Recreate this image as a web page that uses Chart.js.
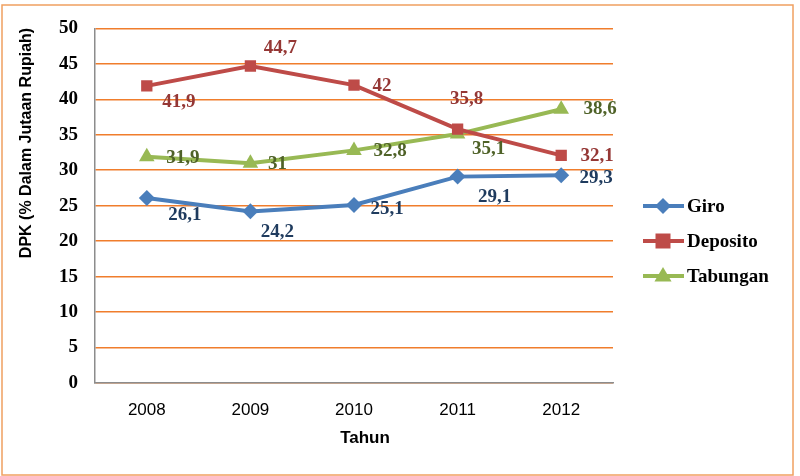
<!DOCTYPE html>
<html>
<head>
<meta charset="utf-8">
<script src="https://cdn.jsdelivr.net/npm/chart.js@4"></script>
<style>
  body { margin: 0; background: #fff; }
  #wrap { width: 800px; height: 476px; position: relative; }
</style>
</head>
<body>
<div id="wrap"><canvas id="chart1" width="800" height="476"></canvas></div>
<script>
// data
const years = ['2008', '2009', '2010', '2011', '2012'];
const giro = [26.1, 24.2, 25.1, 29.1, 29.3];
const deposito = [41.9, 44.7, 42, 35.8, 32.1];
const tabungan = [31.9, 31, 32.8, 35.1, 38.6];
const yMax = 50;
const yStep = 5;

// смещение подписей значений от точки
const labelOffsets = [
    [[38, 17], [27, 21], [33, 4], [37, 20], [35, 3]],
    [[32, 16], [30, -18], [28, 1], [9, -30], [36, 1]],
    [[36, 1], [27, 1], [36, 1], [31, 15], [39, 0]]
];
const labelColors = ['#1F3B5E', '#953735', '#4F6228'];

const fmt = v => String(v).replace('.', ',');

function drawMarker(ctx, style, x, y, color) {
    ctx.save();
    ctx.fillStyle = color;
    ctx.beginPath();
    if (style === 'rectRot') {
        const r = 8;
        ctx.moveTo(x, y - r); ctx.lineTo(x + r, y); ctx.lineTo(x, y + r); ctx.lineTo(x - r, y);
    } else if (style === 'rect') {
        ctx.rect(x - 7.5, y - 7.5, 15, 15);
    } else {
        const r = 9;
        ctx.moveTo(x, y - r); ctx.lineTo(x + r * 0.95, y + r * 0.6); ctx.lineTo(x - r * 0.95, y + r * 0.6);
    }
    ctx.closePath();
    ctx.fill();
    ctx.restore();
}

const extras = {
    id: 'extras',
    afterDatasetsDraw(chart) {
        const ctx = chart.ctx;
        ctx.save();
        ctx.font = 'bold 19px "Liberation Serif", serif';
        ctx.textAlign = 'center';
        ctx.textBaseline = 'middle';
        chart.data.datasets.forEach((ds, i) => {
            chart.getDatasetMeta(i).data.forEach((pt, j) => {
                const off = labelOffsets[i][j];
                ctx.fillStyle = labelColors[i];
                ctx.fillText(fmt(ds.data[j]), pt.x + off[0], pt.y + off[1]);
            });
        });
        ctx.restore();
    },
    afterDraw(chart) {
        const ctx = chart.ctx;
        ctx.save();
        // legenda
        const ly = [206, 241, 276];
        chart.data.datasets.forEach((ds, i) => {
            ctx.strokeStyle = ds.borderColor;
            ctx.lineWidth = 4;
            ctx.beginPath();
            ctx.moveTo(643, ly[i]);
            ctx.lineTo(684, ly[i]);
            ctx.stroke();
            drawMarker(ctx, ds.pointStyle, 663, ly[i], ds.backgroundColor);
            ctx.fillStyle = '#000';
            ctx.font = 'bold 19px "Liberation Serif", serif';
            ctx.textAlign = 'left';
            ctx.textBaseline = 'middle';
            ctx.fillText(ds.label, 687, ly[i] + 1);
        });
        // judul sumbu
        ctx.fillStyle = '#000';
        ctx.font = 'bold 17px "Liberation Sans", sans-serif';
        ctx.textAlign = 'center';
        ctx.textBaseline = 'middle';
        ctx.fillText('Tahun', 365, 438);
        ctx.save();
        ctx.translate(27, 143);
        ctx.rotate(-Math.PI / 2);
        ctx.font = 'bold 16px "Liberation Sans", sans-serif';
        ctx.fillText('DPK (% Dalam Jutaan Rupiah)', 0, 0);
        ctx.restore();
        // bingkai
        ctx.strokeStyle = '#F0A060';
        ctx.lineWidth = 1.5;
        ctx.strokeRect(2, 5, 791, 470);
        ctx.restore();
    }
};

document.addEventListener('DOMContentLoaded', () => {
    const chart1 = document.getElementById('chart1');
    new Chart(chart1.getContext('2d'), {
        type: 'line',
        data: {
            labels: years,
            datasets: [{
                label: 'Giro',
                data: giro,
                borderColor: '#4A7EBB',
                backgroundColor: '#4A7EBB',
                pointStyle: 'rectRot',
                pointRadius: 8
            }, {
                label: 'Deposito',
                data: deposito,
                borderColor: '#BE4B48',
                backgroundColor: '#BE4B48',
                pointStyle: 'rect',
                pointRadius: 8
            }, {
                label: 'Tabungan',
                data: tabungan,
                borderColor: '#98B954',
                backgroundColor: '#98B954',
                pointStyle: 'triangle',
                pointRadius: 9
            }]
        },
        plugins: [extras],
        options: {
            responsive: false,
            animation: false,
            elements: {
                line: { borderWidth: 4, tension: 0 },
                point: { borderWidth: 0, hoverRadius: 8 }
            },
            layout: { padding: { left: 13, right: 187, top: 27, bottom: 25 } },
            plugins: {
                legend: { display: false },
                tooltip: { enabled: false }
            },
            scales: {
                x: {
                    offset: true,
                    grid: { display: false, drawTicks: false },
                    border: { color: '#8C8C8C', width: 1.5 },
                    ticks: {
                        padding: 17,
                        color: '#000',
                        font: { family: '"Liberation Sans", sans-serif', size: 17 }
                    },
                    afterFit: s => { s.height = 68; }
                },
                y: {
                    min: 0,
                    max: yMax,
                    grid: { color: '#F07D2C', lineWidth: 1.5, drawTicks: false },
                    border: { color: '#8C8C8C', width: 1.5 },
                    ticks: {
                        stepSize: yStep,
                        padding: 17,
                        color: '#000',
                        font: { family: '"Liberation Serif", serif', size: 19, weight: 'bold' }
                    },
                    afterFit: s => { s.width = 82; }
                }
            }
        }
    });
});
</script>
</body>
</html>
